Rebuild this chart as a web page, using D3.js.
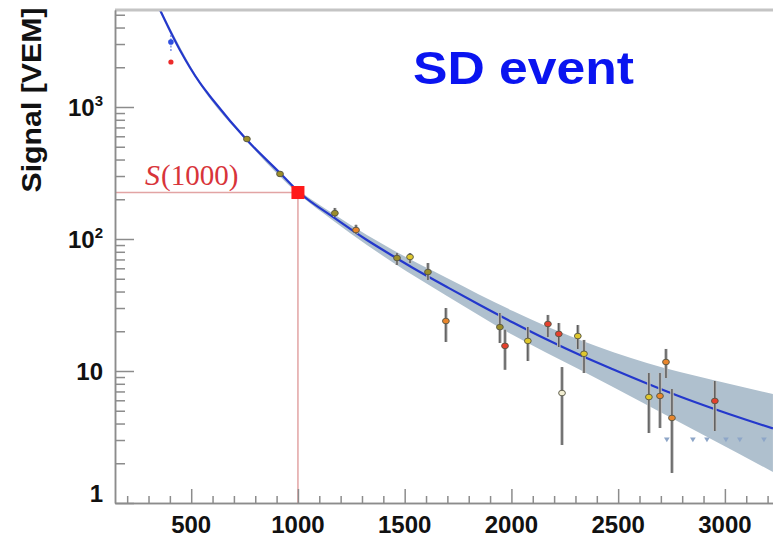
<!DOCTYPE html>
<html>
<head>
<meta charset="utf-8">
<script src="https://cdn.jsdelivr.net/npm/d3@7"></script>
<style>
  html, body { margin: 0; padding: 0; background: #fff; }
  svg { display: block; }
</style>
</head>
<body>
<svg id="chart" width="773" height="537"></svg>
<script>
// ---------- DATA ----------
// Fitted lateral distribution function
const fitR = [354, 447, 541, 602, 761, 916, 1009, 1164, 1323, 1445, 1539, 1698, 1852, 2007, 2166, 2321, 2475, 2635, 2789, 2944, 3103, 3225];
const fitS = [5430, 2704, 1520, 1130, 562, 316, 223, 147, 98.2, 74.3, 60.3, 43.3, 31.6, 23.3, 17.3, 13.2, 10.3, 8.04, 6.41, 5.20, 4.25, 3.67];

// Uncertainty band
const bandR  = [354, 541, 761, 1009, 1164, 1323, 1445, 1698, 2007, 2321, 2635, 2944, 3225];
const bandHi = [5600, 1560, 577, 231, 156, 107, 82.5, 50.7, 28.5, 17.2, 11.5, 8.55, 6.69];
const bandLo = [5250, 1480, 548, 215, 138, 90.1, 66.4, 37.0, 18.7, 10.2, 5.53, 3.00, 1.72];

// Station signals
const stR    = [761, 916, 1173, 1272, 1464, 1525, 1609, 1693, 1946, 1970, 2077, 2171, 2222, 2237, 2311, 2340, 2644, 2696, 2724, 2752, 2953];
const stS    = [572, 311, 157, 117, 71.8, 73.1, 56.2, 23.9, 21.5, 15.5, 16.9, 22.7, 19.1, 6.81, 18.4, 13.5, 6.35, 6.47, 11.7, 4.41, 5.93];
const stHi   = [603, 327, 172, 128, 78.3, 78.3, 65.8, 30.0, 27.5, 20.5, 21.5, 26.6, 23.1, 10.7, 22.3, 17.2, 9.66, 9.66, 14.7, 7.31, 8.40];
const stLo   = [543, 295, 147, 109, 63.5, 65.8, 48.9, 16.6, 16.3, 10.2, 11.9, 18.1, 15.2, 2.75, 14.7, 9.66, 3.39, 3.70, 8.85, 1.69, 3.51];
const stKind = ["olive", "olive", "olive", "orange", "olive", "yellow", "olive", "orange", "olive", "red", "yellow", "red", "red", "pale", "yellow", "yellow", "yellow", "orange", "orange", "orange", "red"];

// Saturated station (two estimates) near the core
const satR = 405;
const satBlue = 3106, satBlueHi = 3511, satBlueLo = 2611;
const satRed = 2193;

// Silent stations (small markers)
const silentR = [2728, 2850, 2916, 3005, 3070, 3183];
const silentS = [3.05, 3.05, 3.05, 3.05, 3.05, 3.05];

// Reference value
const refR = 1000;
const refS = 225;

// Axes
const xMajor = [500, 1000, 1500, 2000, 2500, 3000];
const xMinorStep = 100;
const yMajor = [1, 10, 100, 1000];
const yMajorLabels = [["1", ""], ["10", ""], ["10", "2"], ["10", "3"]];

const yTitle = "Signal [VEM]";
const eventLabel = "SD event";

// ---------- DRAWING ----------
const W = 773, H = 537;
const L = 115, T = 10, B = 503, R = 790;
const svg = d3.select("#chart");
svg.append("rect").attr("width", W).attr("height", H).attr("fill", "#fff");

const x = d3.scaleLinear().domain([143, 3305]).range([L, R]);
const y = d3.scaleLog().domain([1, Math.pow(10, (B - T) / 132)]).range([B, T]);

const clip = svg.append("defs").append("clipPath").attr("id", "plot");
clip.append("rect").attr("x", L).attr("y", T).attr("width", R - L).attr("height", B - T);
const plot = svg.append("g").attr("clip-path", "url(#plot)");

const colorOf = {
  olive: "#9c8e2a",
  yellow: "#e0c82c",
  red: "#e6402c",
  orange: "#ea862c",
  pale: "#f2eed2"
};

// band
const bandData = bandR.map((r, i) => ({ r, hi: bandHi[i], lo: bandLo[i] }));
plot.append("path")
  .datum(bandData)
  .attr("fill", "#afc0ce")
  .attr("d", d3.area().curve(d3.curveMonotoneX)
    .x(d => x(d.r)).y0(d => y(d.lo)).y1(d => y(d.hi)));

// fit line
const fitData = fitR.map((r, i) => ({ r, s: fitS[i] }));
plot.append("path")
  .datum(fitData)
  .attr("fill", "none")
  .attr("stroke", "#2438cc")
  .attr("stroke-width", 2.2)
  .attr("d", d3.line().curve(d3.curveMonotoneX).x(d => x(d.r)).y(d => y(d.s)));

// S(1000) guide lines
plot.append("line")
  .attr("x1", L).attr("x2", x(refR)).attr("y1", y(refS)).attr("y2", y(refS))
  .attr("stroke", "#e2a4a4").attr("stroke-width", 1.5);
plot.append("line")
  .attr("x1", x(refR)).attr("x2", x(refR)).attr("y1", y(refS)).attr("y2", B)
  .attr("stroke", "#e2a4a4").attr("stroke-width", 1.5);

// error bars
const st = stR.map((r, i) => ({ r, s: stS[i], hi: stHi[i], lo: stLo[i], k: stKind[i] }));
plot.selectAll("line.errHalo").data(st).enter().append("line")
  .attr("x1", d => x(d.r)).attr("x2", d => x(d.r))
  .attr("y1", d => y(d.hi)).attr("y2", d => y(d.lo))
  .attr("stroke", "#bcbcbc").attr("stroke-width", 3.5);
plot.selectAll("line.err").data(st).enter().append("line")
  .attr("x1", d => x(d.r)).attr("x2", d => x(d.r))
  .attr("y1", d => y(d.hi)).attr("y2", d => y(d.lo))
  .attr("stroke", "#444").attr("stroke-width", 1.2);

// markers
plot.selectAll("ellipse.st").data(st).enter().append("ellipse")
  .attr("cx", d => x(d.r)).attr("cy", d => y(d.s))
  .attr("rx", 3.4).attr("ry", 2.8)
  .attr("fill", d => colorOf[d.k])
  .attr("stroke", "#554").attr("stroke-width", 0.9);

// saturated station
plot.append("line")
  .attr("x1", x(satR)).attr("x2", x(satR))
  .attr("y1", y(satBlueHi)).attr("y2", y(satBlueLo))
  .attr("stroke", "#5a74e0").attr("stroke-width", 1.2).attr("stroke-dasharray", "2,1.5");
plot.append("circle").attr("cx", x(satR)).attr("cy", y(satBlue)).attr("r", 2.8).attr("fill", "#3050e0");
plot.append("circle").attr("cx", x(satR)).attr("cy", y(satRed)).attr("r", 2.6).attr("fill", "#ec2a2a");

// silent stations
plot.selectAll("path.silent").data(silentR.map((r, i) => ({ r, s: silentS[i] }))).enter().append("path")
  .attr("d", d3.symbol().type(d3.symbolTriangle).size(14))
  .attr("transform", d => `translate(${x(d.r)},${y(d.s)}) rotate(180)`)
  .attr("fill", "#8ea6c8");

// S(1000) marker
const sq = 13;
plot.append("rect")
  .attr("x", x(refR) - sq / 2).attr("y", y(refS) - sq / 2)
  .attr("width", sq).attr("height", sq).attr("fill", "#ff1a1a");

// ---------- AXES ----------
const axisColor = "#8c8c8c";
// top border
svg.append("line").attr("x1", L).attr("x2", W).attr("y1", T).attr("y2", T)
  .attr("stroke", "#c4c4c4").attr("stroke-width", 3);

// x ticks
const xMinor = d3.range(200, 3301, xMinorStep).filter(v => v % 500 !== 0);
const gxMinor = svg.append("g").attr("transform", `translate(0,${B})`)
  .call(d3.axisBottom(x).tickValues(xMinor).tickSizeInner(-7).tickSizeOuter(0).tickFormat(""));
const gxMajor = svg.append("g").attr("transform", `translate(0,${B})`)
  .call(d3.axisBottom(x).tickValues(xMajor).tickSizeInner(-14).tickSizeOuter(0).tickFormat(""));
[gxMinor, gxMajor].forEach(g => {
  g.selectAll("line").attr("stroke", axisColor).attr("stroke-width", 1.5);
  g.select(".domain").attr("stroke", axisColor).attr("stroke-width", 1.5);
});

// y ticks
const yMinor = [];
[1, 10, 100, 1000].forEach(dec => { for (let k = 2; k <= 9; k++) { const v = dec * k; if (y(v) >= T) yMinor.push(v); } });
const gyMinor = svg.append("g").attr("transform", `translate(${L},0)`)
  .call(d3.axisLeft(y).tickValues(yMinor).tickSizeInner(-10).tickSizeOuter(0).tickFormat(""));
const gyMajor = svg.append("g").attr("transform", `translate(${L},0)`)
  .call(d3.axisLeft(y).tickValues(yMajor).tickSizeInner(-19).tickSizeOuter(0).tickFormat(""));
[gyMinor, gyMajor].forEach(g => {
  g.selectAll("line").attr("stroke", axisColor).attr("stroke-width", 1.5);
  g.select(".domain").attr("stroke", axisColor).attr("stroke-width", 1.5);
});

const labelFont = "'Liberation Sans', Arial, Helvetica, sans-serif";
// x labels
svg.append("g").selectAll("text").data(xMajor).enter().append("text")
  .attr("x", d => x(d)).attr("y", 533)
  .attr("text-anchor", "middle")
  .attr("font-family", labelFont).attr("font-weight", "bold").attr("font-size", 24)
  .attr("fill", "#111")
  .text(d => d);

// y labels
yMajor.forEach((v, i) => {
  const [base, sup] = yMajorLabels[i];
  const yy = Math.min(y(v) + 8.5, 502);
  const t = svg.append("text")
    .attr("x", 103).attr("y", yy)
    .attr("text-anchor", "end")
    .attr("font-family", labelFont).attr("font-weight", "bold").attr("font-size", 24)
    .attr("fill", "#111");
  t.append("tspan").text(base);
  if (sup) {
    t.append("tspan").attr("font-size", 15).attr("dy", -10).text(sup);
  }
});

// y title
svg.append("text")
  .attr("transform", "translate(41,100) rotate(-90)")
  .attr("text-anchor", "middle")
  .attr("font-family", labelFont).attr("font-weight", "bold").attr("font-size", 27)
  .attr("textLength", 185).attr("lengthAdjust", "spacingAndGlyphs")
  .attr("fill", "#111")
  .text(yTitle);

// event label
svg.append("text")
  .attr("x", 413).attr("y", 84)
  .attr("font-family", labelFont).attr("font-weight", "bold").attr("font-size", 46)
  .attr("textLength", 221).attr("lengthAdjust", "spacingAndGlyphs")
  .attr("fill", "#0a14f0")
  .text(eventLabel);

// S(1000) label
const sl = svg.append("text")
  .attr("x", 145).attr("y", 185)
  .attr("font-family", "'Liberation Serif', 'Times New Roman', serif")
  .attr("fill", "#d8343a");
sl.append("tspan").attr("font-style", "italic").attr("font-size", 30).text("S");
sl.append("tspan").attr("font-size", 29).attr("dx", 1).text("(" + refR + ")");
</script>
</body>
</html>
